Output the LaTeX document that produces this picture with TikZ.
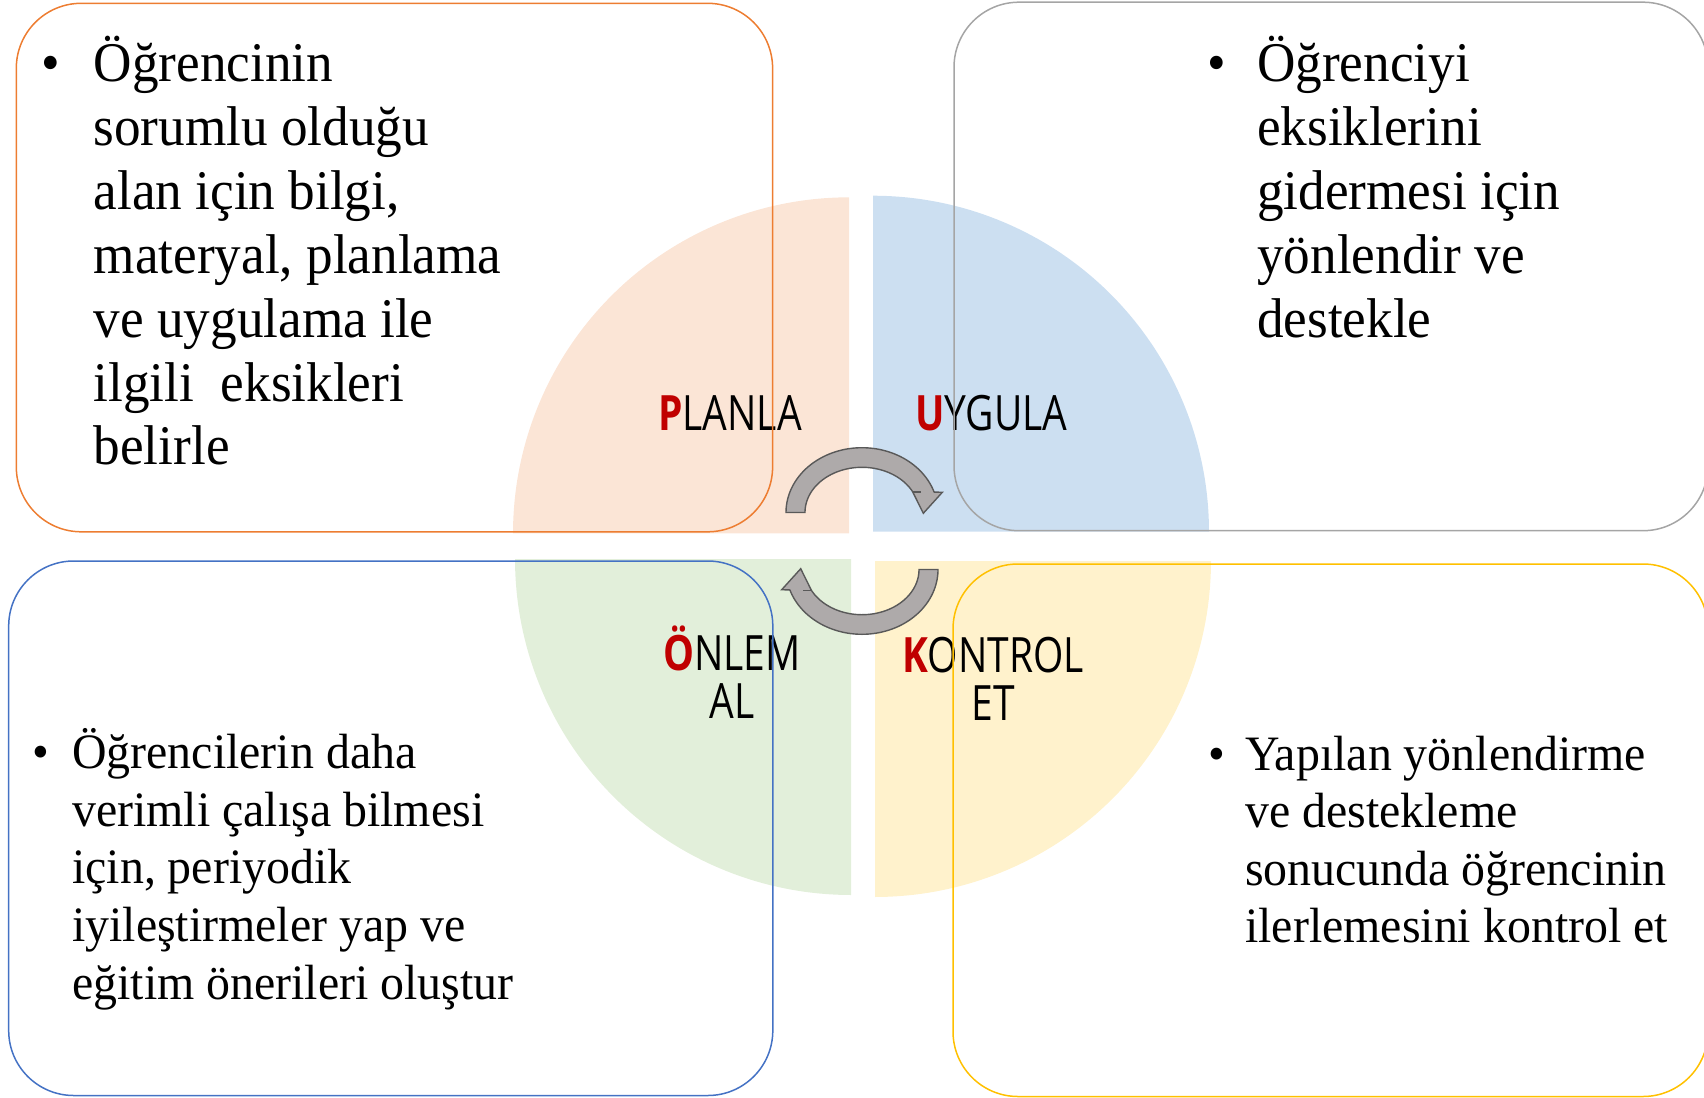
\documentclass[tikz,border=0pt]{standalone}
\usepackage{fontspec}
\setmainfont{Liberation Serif}[FakeStretch=0.95]
\newfontfamily\smallserif{Liberation Serif}[FakeStretch=0.967]
\newfontfamily\lblfont{Open Sans}[FakeStretch=0.8]
\definecolor{qpeach}{HTML}{FBE5D6}
\definecolor{qblue}{RGB}{204,223,241}
\definecolor{qgreen}{HTML}{E2EFDA}
\definecolor{qyellow}{HTML}{FFF2CC}
\definecolor{bOrange}{HTML}{ED7D31}
\definecolor{bGray}{HTML}{A5A5A5}
\definecolor{bBlue}{HTML}{4472C4}
\definecolor{bYellow}{HTML}{FFC000}
\definecolor{arrowgray}{HTML}{AEAAAA}
\definecolor{arrowline}{HTML}{595959}
\definecolor{lblred}{HTML}{C00000}
\tikzset{
  card/.style={line width=1.5pt, rounded corners=65pt},
  bigtext/.style={anchor=base west, inner sep=0pt, font=\fontsize{56}{63.8}\selectfont},
  smalltext/.style={anchor=base west, inner sep=0pt, font=\smallserif\fontsize{49.5}{57.6}\selectfont},
  lbl/.style={anchor=base, inner sep=0pt, font=\lblfont\fontsize{48.7}{48}\selectfont},
  cyc/.style={fill=arrowgray, draw=arrowline, line width=1.4pt, line join=miter},
}
\newcommand{\firstred}[1]{\textcolor{lblred}{\bfseries #1}}
\newcommand{\blocktext}[2]{\parbox[t]{#1}{\raggedright\lineskiplimit=-100pt #2}}
\begin{document}
\begin{tikzpicture}[x=1pt,y=-1pt]
\useasboundingbox (0,0) rectangle (1704,1097);
\clip (0,0) rectangle (1704,1097);
% quadrants
\fill[qpeach] (849,533.3) -- plot[domain=180:270,samples=80] ({849+336*cos(\x)},{533.3+336*sin(\x)}) -- cycle;
\fill[qblue] (873,531.7) -- plot[domain=270:360,samples=80] ({873+336*cos(\x)},{531.7+336*sin(\x)}) -- cycle;
\fill[qgreen] (851,559) -- plot[domain=90:180,samples=80] ({851+336*cos(\x)},{559+336*sin(\x)}) -- cycle;
\fill[qyellow] (875,561) -- plot[domain=0:90,samples=80] ({875+336*cos(\x)},{561+336*sin(\x)}) -- cycle;
% labels
\node[lbl] (planla) at (730,430) {\firstred{P}LANLA};
\node[lbl] (uygula) at (991.5,430) {\firstred{U}YGULA};
\node[lbl] (onlem) at (732,670.5) {\parbox[t]{220pt}{\centering\firstred{Ö}NLEM\\AL}};
\node[lbl] (kontrol) at (993,672.7) {\parbox[t]{220pt}{\centering\firstred{K}ONTROL\\ET}};
% boxes
\draw[card, bOrange] (16.3,3.3) rectangle (772.6,531.8);
\draw[card, bGray] (954,2.2) rectangle (1708,530.7);
\draw[card, bBlue] (8.7,561) rectangle (772.8,1095.5);
\draw[card, bYellow] (953,564) rectangle (1708,1096.5);
% texts
\node[bigtext, anchor=base] (b1) at (51,82) {•};
\node[bigtext] (t1) at (93.5,82) {\blocktext{560pt}{Öğrencinin\\sorumlu olduğu\\alan için bilgi,\\materyal, planlama\\ve uygulama ile\\ilgili~ eksikleri\\belirle}};
\node[bigtext, anchor=base] (b2) at (1217,82) {•};
\node[bigtext] (t2) at (1257,82) {\blocktext{420pt}{Öğrenciyi\\eksiklerini\\gidermesi için\\yönlendir ve\\destekle}};
\node[smalltext, anchor=base] (b3) at (41.3,768.6) {•};
\node[smalltext] (t3) at (72,768.6) {\blocktext{640pt}{Öğrencilerin daha\\verimli çalışa bilmesi\\için, periyodik\\iyileştirmeler yap ve\\eğitim önerileri oluştur}};
\node[smalltext, anchor=base] (b4) at (1217,770) {•};
\node[smalltext] (t4) at (1245,770) {\blocktext{450pt}{Yapılan yönlendirme\\ve destekleme\\sonucunda öğrencinin\\ilerlemesini kontrol et}};
% cycle arrows
\filldraw[cyc] (786,512.5) -- plot[domain=180:341.6,samples=80] ({862+76*cos(\x)},{512.5+64.8*sin(\x)}) -- (942.3,492.3) -- (923.3,513.3) -- (912.6,491.7) -- plot[domain=332.6:180,samples=80] ({862+57*cos(\x)},{512.5+45.2*sin(\x)}) -- cycle;
\draw[arrowline, line width=1.4pt] (912.6,491.8) -- (921,491.8);
\begin{scope}[rotate around={180:(862,541)}]
\filldraw[cyc] (786,512.5) -- plot[domain=180:341.6,samples=80] ({862+76*cos(\x)},{512.5+64.8*sin(\x)}) -- (942.3,492.3) -- (923.3,513.3) -- (912.6,491.7) -- plot[domain=332.6:180,samples=80] ({862+57*cos(\x)},{512.5+45.2*sin(\x)}) -- cycle;
\draw[arrowline, line width=1.4pt] (912.6,491.8) -- (921,491.8);
\end{scope}
\end{tikzpicture}
\end{document}
